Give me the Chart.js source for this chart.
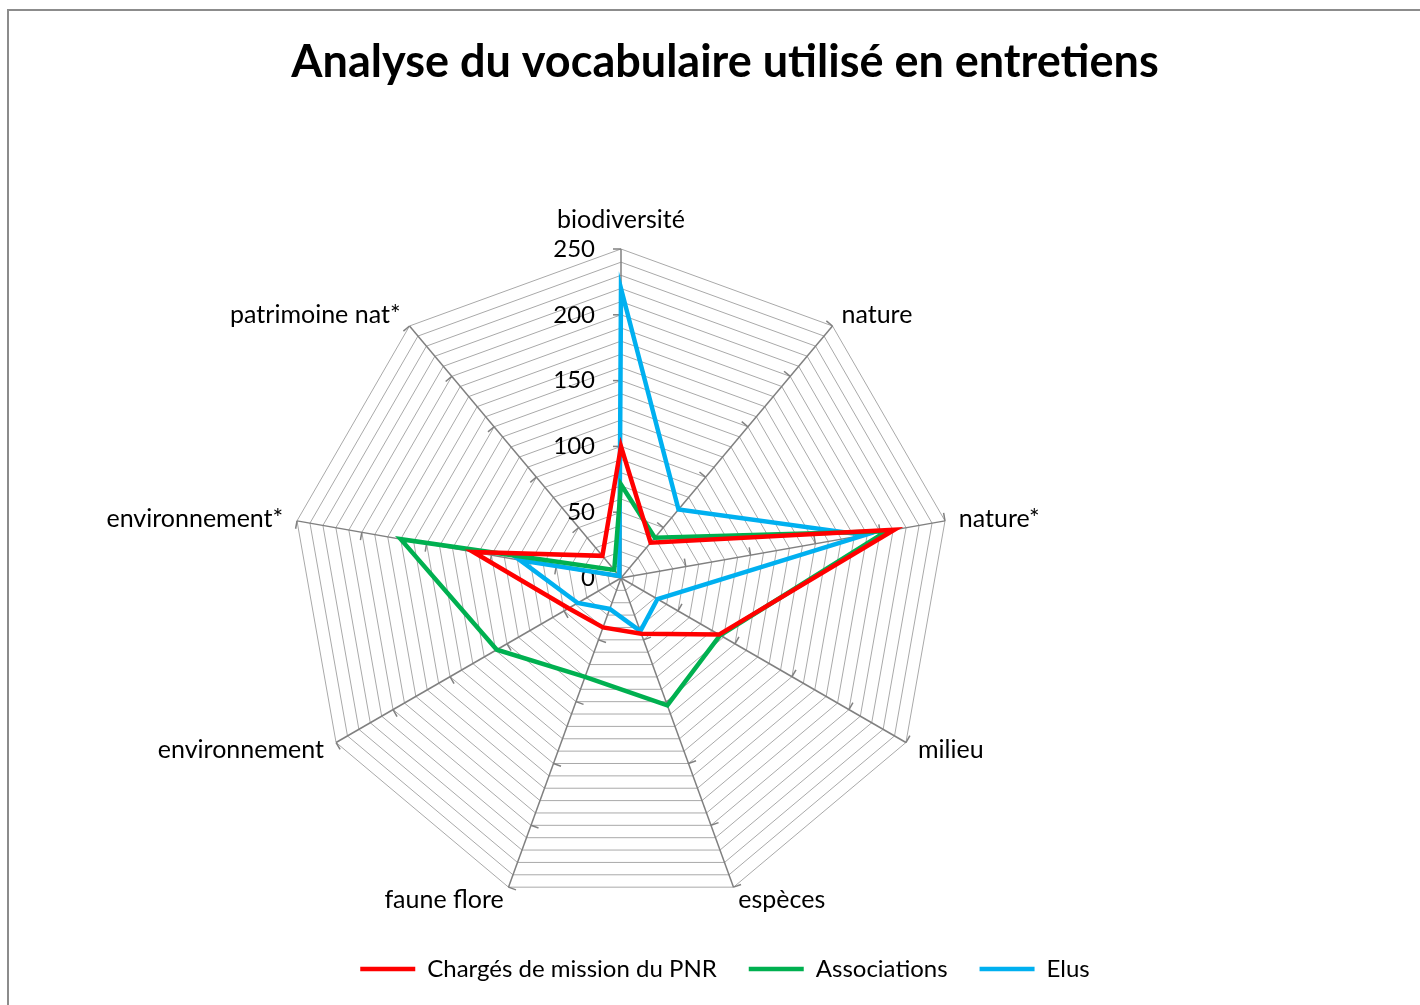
<!DOCTYPE html>
<html lang="fr">
<head>
<meta charset="utf-8">
<title>Analyse du vocabulaire utilisé en entretiens</title>
<script src="https://cdn.jsdelivr.net/npm/chart.js@4.4.1/dist/chart.umd.min.js"></script>
<style>
  html, body { margin: 0; padding: 0; background: #fff; }
  #wrap { position: relative; width: 1420px; height: 1005px; overflow: hidden; }
  #frame {
    position: absolute; left: 7px; top: 9px; right: -4px; bottom: -4px;
    border-top: 2px solid #8c8c8c; border-left: 2px solid #8c8c8c;
    pointer-events: none;
  }
  canvas { display: block; }
</style>
</head>
<body>
<div id="wrap">
  <canvas id="vocab" width="1420" height="1005"></canvas>
  <div id="frame"></div>
</div>
<script>
const CATEGORIES = ['biodiversité', 'nature', 'nature*', 'milieu', 'espèces', 'faune flore', 'environnement', 'environnement*', 'patrimoine nat*'];
const CHARGES_PNR = [100, 35, 211, 86, 45, 40, 46, 114, 22];
const ASSOCIATIONS = [71, 40, 205, 87, 103, 80, 109, 170, 8];
const ELUS = [220, 68, 188, 32, 43, 25, 38, 78, 2];
const AXIS_TICKS = [0, 50, 100, 150, 200, 250];

// plot placement inside the canvas (centre and outer radius of the web)
const PLOT = {cx: 621, cy: 578, radius: 329};
const FONT = 'Lato';

Chart.defaults.font.family = FONT;
Chart.defaults.color = '#000';

// pins the radar web, then draws spoke ticks, value labels and category labels
const radarFrame = {
  id: 'radarFrame',
  afterLayout(chart) {
    const r = chart.scales.r;
    r.xCenter = PLOT.cx;
    r.yCenter = PLOT.cy;
    r.drawingArea = PLOT.radius;
  },
  beforeDatasetsDraw(chart) {
    const r = chart.scales.r;
    const ctx = chart.ctx;
    ctx.save();

    ctx.strokeStyle = '#808080';
    ctx.lineWidth = 1.5;
    CATEGORIES.forEach((name, i) => {
      const a = r.getIndexAngle(i) - Math.PI / 2;
      const dx = Math.cos(a);
      const dy = Math.sin(a);
      AXIS_TICKS.slice(1).forEach((v) => {
        const p = r.getPointPosition(i, r.getDistanceFromCenterForValue(v));
        ctx.beginPath();
        ctx.moveTo(p.x, p.y);
        ctx.lineTo(p.x + dy * 8, p.y - dx * 8);
        ctx.stroke();
      });
    });

    ctx.fillStyle = '#000';
    ctx.font = `24px ${FONT}`;
    ctx.textAlign = 'right';
    ctx.textBaseline = 'middle';
    AXIS_TICKS.forEach((v) => {
      ctx.fillText(String(v), r.xCenter - 26, r.yCenter - r.getDistanceFromCenterForValue(v));
    });

    ctx.font = `25px ${FONT}`;
    CATEGORIES.forEach((name, i) => {
      const a = r.getIndexAngle(i) - Math.PI / 2;
      const dx = Math.cos(a);
      const p = r.getPointPosition(i, r.drawingArea + 14);
      if (Math.abs(dx) < 0.05) {
        ctx.textAlign = 'center';
        ctx.textBaseline = 'bottom';
        ctx.fillText(name, p.x, p.y - 3);
      } else {
        ctx.textAlign = dx > 0 ? 'left' : 'right';
        ctx.textBaseline = 'middle';
        ctx.fillText(name, p.x, p.y);
      }
    });
    ctx.restore();
  }
};

function series(label, values, color) {
  return {
    label,
    data: values,
    borderColor: color,
    backgroundColor: color,
    borderWidth: 4.5,
    fill: false,
    pointRadius: 0,
    pointHoverRadius: 0,
    clip: false
  };
}

new Chart(document.getElementById('vocab'), {
  type: 'radar',
  data: {
    labels: CATEGORIES,
    datasets: [
      series('Chargés de mission du PNR', CHARGES_PNR, '#ff0000'),
      series('Associations', ASSOCIATIONS, '#00b050'),
      series('Elus', ELUS, '#00b0f0')
    ]
  },
  options: {
    responsive: false,
    animation: false,
    events: [],
    layout: {padding: {left: 30, right: 0, top: 0, bottom: 14}},
    plugins: {
      title: {
        display: true,
        text: 'Analyse du vocabulaire utilisé en entretiens',
        font: {family: FONT, size: 45, weight: 'bold'},
        color: '#000',
        padding: {top: 35, bottom: 20}
      },
      legend: {
        position: 'bottom',
        labels: {
          usePointStyle: true,
          pointStyle: 'line',
          pointStyleWidth: 55,
          font: {family: FONT, size: 24},
          color: '#000',
          padding: 32
        }
      },
      tooltip: {enabled: false}
    },
    scales: {
      r: {
        min: 0,
        max: 250,
        ticks: {display: false, stepSize: 10},
        grid: {color: '#a9a9a9', lineWidth: 1},
        angleLines: {color: '#808080', lineWidth: 1.5},
        pointLabels: {display: false}
      }
    }
  },
  plugins: [radarFrame]
});
</script>
</body>
</html>
